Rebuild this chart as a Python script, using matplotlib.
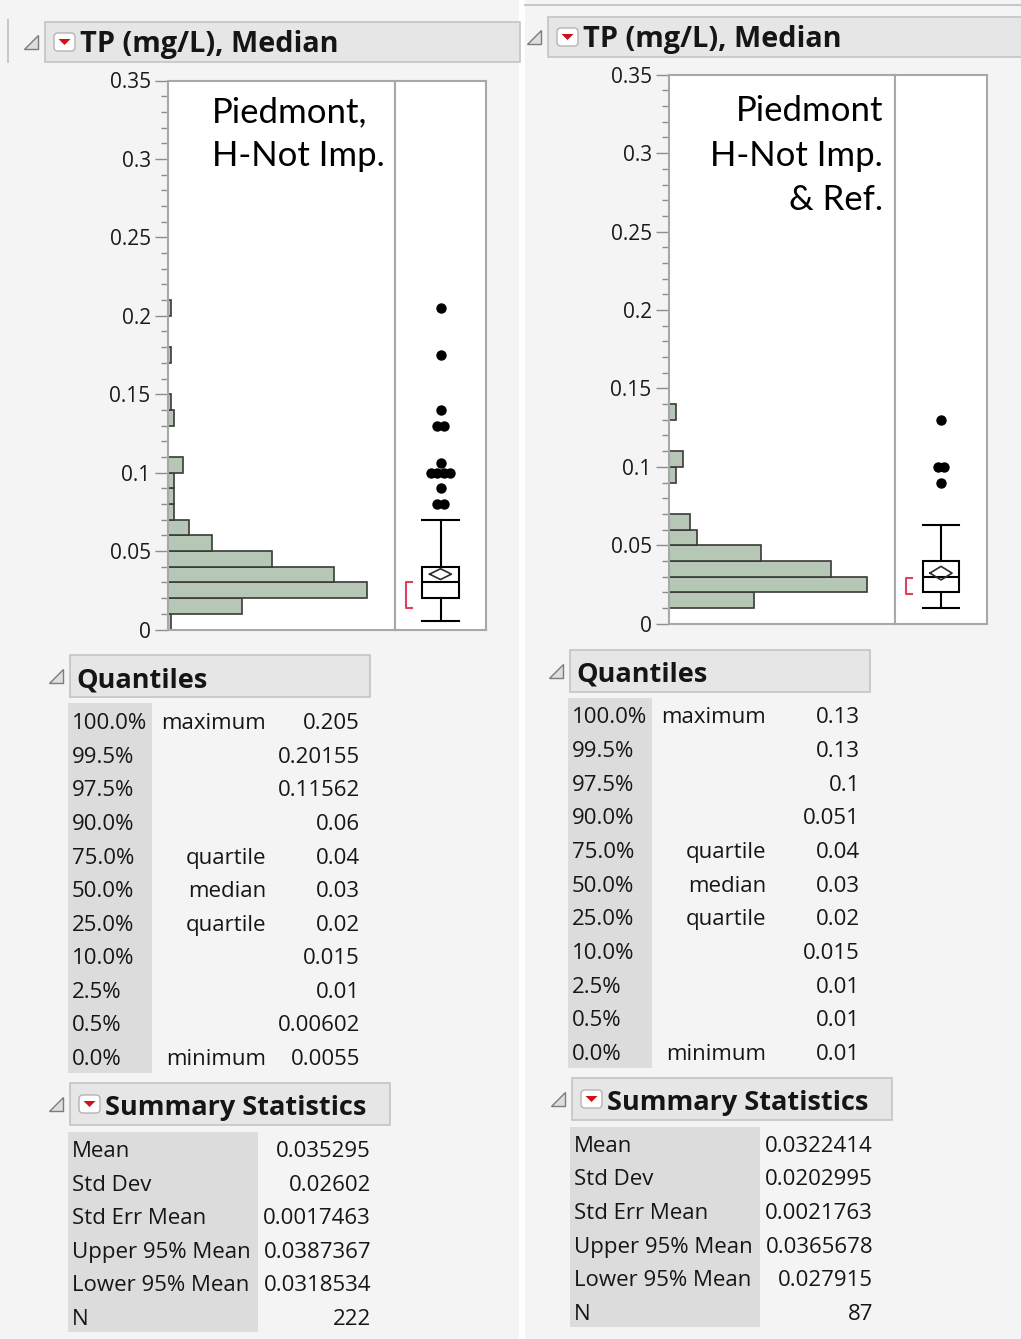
import numpy as np
import matplotlib.pyplot as plt
from matplotlib.patches import Rectangle, FancyBboxPatch, Polygon
from matplotlib.ticker import MultipleLocator

W, H = 1021, 1339
FONT = "Open Sans"
BG = "#f4f4f4"
plt.rcParams["font.family"] = [FONT, "DejaVu Sans"]

# ---- values ----
left_bins = [0.00, 0.01, 0.02, 0.03, 0.04, 0.05, 0.06, 0.07, 0.08, 0.09, 0.10,
             0.11, 0.12, 0.13, 0.14, 0.15, 0.16, 0.17, 0.18, 0.19, 0.20]
left_counts = [1, 25, 67, 56, 35, 15, 7, 2, 2, 2, 5, 0, 0, 2, 1, 0, 0, 1, 0, 0, 1]
right_bins = [0.01, 0.02, 0.03, 0.04, 0.05, 0.06, 0.07, 0.08, 0.09, 0.10, 0.11, 0.12, 0.13]
right_counts = [12, 28, 23, 13, 4, 3, 0, 0, 1, 2, 0, 0, 1]

left_box = dict(whislo=0.0055, q1=0.02, med=0.03, q3=0.04, whishi=0.07)
right_box = dict(whislo=0.01, q1=0.02, med=0.03, q3=0.04, whishi=0.063)
left_mean_ci = [0.035295, 0.0318534, 0.0387367]
right_mean_ci = [0.0322414, 0.027915, 0.0365678]
left_outliers = [0.08, 0.08, 0.09, 0.10, 0.10, 0.10, 0.10, 0.106, 0.13, 0.13, 0.14, 0.175, 0.205]
right_outliers = [0.09, 0.10, 0.10, 0.13]
left_short_half = [0.014, 0.030]
right_short_half = [0.019, 0.029]

left_note = ["Piedmont,", "H-Not Imp."]
right_note = ["Piedmont", "H-Not Imp.", "& Ref."]

quant_pcts = ["100.0%", "99.5%", "97.5%", "90.0%", "75.0%", "50.0%",
              "25.0%", "10.0%", "2.5%", "0.5%", "0.0%"]
quant_names = ["maximum", "", "", "", "quartile", "median", "quartile", "", "", "", "minimum"]
left_quant_vals = ["0.205", "0.20155", "0.11562", "0.06", "0.04", "0.03",
                   "0.02", "0.015", "0.01", "0.00602", "0.0055"]
right_quant_vals = ["0.13", "0.13", "0.1", "0.051", "0.04", "0.03",
                    "0.02", "0.015", "0.01", "0.01", "0.01"]
stat_names = ["Mean", "Std Dev", "Std Err Mean", "Upper 95% Mean", "Lower 95% Mean", "N"]
left_stat_vals = ["0.035295", "0.02602", "0.0017463", "0.0387367", "0.0318534", "222"]
right_stat_vals = ["0.0322414", "0.0202995", "0.0021763", "0.0365678", "0.027915", "87"]

y_ticks = [0, 0.05, 0.1, 0.15, 0.2, 0.25, 0.3, 0.35]
y_ticklabels = ["0", "0.05", "0.1", "0.15", "0.2", "0.25", "0.3", "0.35"]


def px_rect(x0, y0, x1, y1):
    return [x0 / W, 1 - y1 / H, (x1 - x0) / W, (y1 - y0) / H]


def fig_text(x, y, s, **kw):
    # text in pixel coords, drawn above every axes
    fig.text(x / W, 1 - y / H, s, **kw)


fig = plt.figure(figsize=(W / 100, H / 100), dpi=100)
fig.patch.set_facecolor(BG)
cv = fig.add_axes([0, 0, 1, 1])
cv.set_xlim(0, W)
cv.set_ylim(H, 0)
cv.axis("off")

# panel backgrounds
cv.add_patch(Rectangle((519, 0), 6, H, fc="white", ec="none"))
cv.plot([525, W], [5, 5], color="#c8c8c8", lw=1.5)
cv.plot([8, 8], [20, 62], color="#c8c8c8", lw=1.5)


def header(x0, y0, x1, y1, text, baseline, icon=False, size=19.5):
    cy = (y0 + y1) / 2
    cv.add_patch(Rectangle((x0, y0), x1 - x0, y1 - y0, fc="#e6e6e6", ec="#c4c4c4", lw=1.2))
    tx = x0 - 21
    cv.add_patch(Polygon([[tx, cy + 7], [tx + 14, cy + 7], [tx + 14, cy - 7]],
                         closed=True, fc="#dedede", ec="#7c7c7c", lw=1))
    text_x = x0 + 6
    if icon:
        cv.add_patch(FancyBboxPatch((x0 + 9, cy - 9), 21, 18,
                                    boxstyle="round,pad=0,rounding_size=4",
                                    fc="white", ec="#b4b4b4", lw=1))
        cv.add_patch(Polygon([[x0 + 13.5, cy - 3], [x0 + 25.5, cy - 3], [x0 + 19.5, cy + 3]],
                             closed=True, fc="#d0101a", ec="none"))
        text_x = x0 + 35
    cv.text(text_x, baseline, text, fontsize=size, fontweight="bold", va="baseline",
            ha="left", color="#151515")


def panel(hx0, hx1, bx1, ytop, ybot, bins, counts, box, mean_ci, outliers, short_half):
    ax = fig.add_axes(px_rect(hx0, ytop, hx1, ybot))
    bx = fig.add_axes(px_rect(hx1, ytop, bx1, ybot))
    ax.barh(bins, counts, height=0.01, align="edge", color="#b6c7b6",
            edgecolor="#3a3a3a", lw=1.2)
    ax.set_xlim(0, max(counts) / 0.875)
    for a in (ax, bx):
        a.set_ylim(0, 0.35)
        a.set_facecolor("white")
        for s in a.spines.values():
            s.set_color("#a8a8a8")
            s.set_linewidth(1.5)
        a.set_xticks([])
    ax.set_yticks(y_ticks)
    ax.set_yticklabels(y_ticklabels)
    ax.yaxis.set_minor_locator(MultipleLocator(0.01))
    ax.tick_params(axis="y", which="major", length=9.5, width=1, color="#8c8c8c",
                   labelsize=15, pad=3, labelcolor="#1a1a1a")
    ax.tick_params(axis="y", which="minor", length=5, width=1, color="#8c8c8c")
    bx.set_yticks([])
    bx.set_xlim(0, 1)

    stats = [dict(box, fliers=[])]
    lp = dict(color="black", lw=1.5)
    bx.bxp(stats, positions=[0.5], widths=0.4, capwidths=0.4, showfliers=False,
           patch_artist=True, boxprops=dict(facecolor="white", edgecolor="black", lw=1.5),
           medianprops=lp, whiskerprops=lp, capprops=lp, manage_ticks=False)
    m, lo, hi = mean_ci
    dw = 0.12
    bx.plot([0.5 - dw, 0.5, 0.5 + dw, 0.5, 0.5 - dw], [m, hi, m, lo, m],
            color="#2c2c2c", lw=1.2, zorder=5)
    slo, shi = short_half
    bx.plot([0.19, 0.12, 0.12, 0.19], [shi, shi, slo, slo], color="#e0405c", lw=1.5)
    vals, reps = np.unique(outliers, return_counts=True)
    for v, n in zip(vals, reps):
        xs = 0.5 + (np.arange(n) - (n - 1) / 2) * 0.07
        bx.scatter(xs, [v] * n, s=42, color="black", zorder=6)
    return ax, bx


# ---- left panel ----
header(45, 22, 520, 62, "TP (mg/L), Median", 52, icon=True, size=20.8)
panel(168, 395, 486, 80.5, 629.5, left_bins, left_counts, left_box,
      left_mean_ci, left_outliers, left_short_half)
fig_text(367, 122, left_note[0], fontsize=25, family="Lato", ha="right", va="baseline")
fig_text(385, 166, left_note[1], fontsize=25, family="Lato", ha="right", va="baseline")

# ---- right panel ----
header(548, 17, W + 5, 57, "TP (mg/L), Median", 47, icon=True, size=20.8)
panel(669, 895, 987, 74.7, 623.7, right_bins, right_counts, right_box,
      right_mean_ci, right_outliers, right_short_half)
for i, line in enumerate(right_note):
    fig_text(883, 121 + i * 44.5, line, fontsize=25, family="Lato", ha="right",
             va="baseline")


def quantiles(x0, y0, base0, step, vals):
    header(x0 + 2, y0, x0 + 302, y0 + 42, "Quantiles", base0 - 42.3)
    cv.add_patch(Rectangle((x0, y0 + 48), 84, 370, fc="#dcdcdc", ec="none"))
    for i, (p, n, v) in enumerate(zip(quant_pcts, quant_names, vals)):
        yb = base0 + i * step
        cv.text(x0 + 4, yb, p, fontsize=16, va="baseline", ha="left", color="#161616")
        cv.text(x0 + 198, yb, n, fontsize=16, va="baseline", ha="right", color="#161616")
        cv.text(x0 + 292, yb, v, fontsize=16, va="baseline", ha="right", color="#161616")


def summary(x0, y0, base0, step, vals, w):
    header(x0 + 2, y0, x0 + w, y0 + 42, "Summary Statistics", y0 + 32, icon=True)
    cv.add_patch(Rectangle((x0, y0 + 49), 190, 200, fc="#dcdcdc", ec="none"))
    for i, (n, v) in enumerate(zip(stat_names, vals)):
        yb = base0 + i * step
        cv.text(x0 + 4, yb, n, fontsize=16, va="baseline", ha="left", color="#161616")
        cv.text(x0 + 303, yb, v, fontsize=16, va="baseline", ha="right", color="#161616")


quantiles(68, 655, 729.3, 33.57, left_quant_vals)
quantiles(568, 650, 723.3, 33.67, right_quant_vals)
summary(68, 1083, 1157.3, 33.5, left_stat_vals, 322)
summary(570, 1078, 1151.7, 33.7, right_stat_vals, 322)

fig.savefig("out.png", dpi=100, facecolor=BG)
